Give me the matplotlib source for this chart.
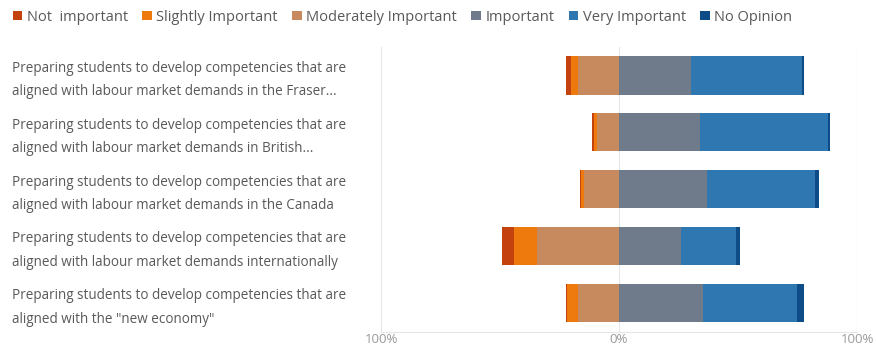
import matplotlib
matplotlib.use('Agg')
import matplotlib.pyplot as plt
import matplotlib.transforms as mtransforms
import numpy as np

plt.rcParams['font.family'] = ['Open Sans', 'DejaVu Sans']

# survey statements, top to bottom
questions = [
    'Preparing students to develop competencies that are\naligned with labour market demands in the Fraser...',
    'Preparing students to develop competencies that are\naligned with labour market demands in British...',
    'Preparing students to develop competencies that are\naligned with labour market demands in the Canada',
    'Preparing students to develop competencies that are\naligned with labour market demands internationally',
    'Preparing students to develop competencies that are\naligned with the "new economy"',
]
categories = ['Not  important', 'Slightly Important', 'Moderately Important',
              'Important', 'Very Important', 'No Opinion']

# share of responses (%) per statement
not_important = [2.0, 0.7, 0.4, 5.2, 0.6]
slightly_important = [2.9, 1.4, 1.4, 9.5, 4.4]
moderately_important = [17.4, 9.1, 14.6, 34.6, 17.4]
important = [30.3, 34.2, 36.8, 26.2, 35.3]
very_important = [46.5, 53.8, 45.5, 22.9, 39.4]
no_opinion = [0.9, 0.8, 1.7, 1.8, 3.1]

tick_vals = [-100, 0, 100]
tick_labels = ['100%', '0%', '100%']

colors = ['#C4420D', '#EE7A0E', '#C78A5E', '#6F7B8B', '#2E77B0', '#0E4C87']
text_col = '#595959'

fig = plt.figure(figsize=(8.76, 3.48), dpi=100)
ax = fig.add_axes([381/876, 1 - 331.7/348, (857 - 381)/876, (331.7 - 47)/348])

y = np.arange(len(questions))
ni = np.array(not_important)
si = np.array(slightly_important)
mi = np.array(moderately_important)
im = np.array(important)
vi = np.array(very_important)
no = np.array(no_opinion)

h = 0.67
# negative side: moderately -> slightly -> not important, going left
ax.barh(y, -mi, left=0, height=h, color=colors[2], label=categories[2])
ax.barh(y, -si, left=-mi, height=h, color=colors[1], label=categories[1])
ax.barh(y, -ni, left=-mi - si, height=h, color=colors[0], label=categories[0])
# positive side
ax.barh(y, im, left=0, height=h, color=colors[3], label=categories[3])
ax.barh(y, vi, left=im, height=h, color=colors[4], label=categories[4])
ax.barh(y, no, left=im + vi, height=h, color=colors[5], label=categories[5])

ax.set_xlim(-100, 100)
ax.set_ylim(len(questions) - 0.5, -0.5)
for v in tick_vals:
    ax.axvline(v, color='#E6E6E6', lw=0.8, zorder=0)
ax.set_xticks(tick_vals)
ax.set_xticklabels(tick_labels, color='#999999', fontsize=9.5)
ax.tick_params(axis='x', length=0, pad=1)
ax.set_yticks([])
for s in ['top', 'right', 'left']:
    ax.spines[s].set_visible(False)
ax.spines['bottom'].set_color('#E6E6E6')
ax.spines['bottom'].set_linewidth(0.8)

trans = mtransforms.blended_transform_factory(fig.transFigure, ax.transData)
for i, q in enumerate(questions):
    ax.text(12/876, i + 0.08, q, transform=trans, ha='left', va='center',
            fontsize=9.75, color=text_col, linespacing=1.8)

handles, labels = ax.get_legend_handles_labels()
hmap = dict(zip(labels, handles))
fig.legend([hmap[c] for c in categories], categories, loc='upper left',
           bbox_to_anchor=(4/876, 1 - 1/348), ncol=6, frameon=False,
           fontsize=10.5, labelcolor=text_col, handlelength=0.65, handleheight=0.65,
           handletextpad=0.3, columnspacing=1.0, borderaxespad=0.2)

fig.savefig('out.png', dpi=100)
